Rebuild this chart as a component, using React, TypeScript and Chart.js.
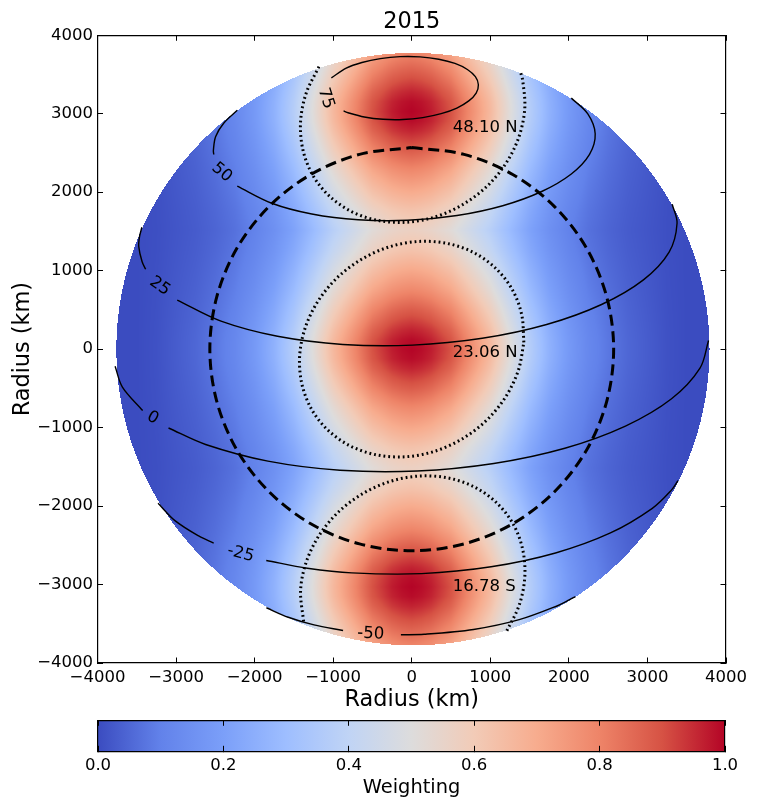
import React, { useEffect, useRef } from "react";
import { Chart, registerables } from "chart.js";

Chart.register(...registerables);

type Pair = [number, number];

const titleText = "2015";
const axisLabel = "Radius (km)";
const colorbarLabel = "Weighting";
const axisLimit = 4000;
const diskRadiusKm = 3775;
const diskCenterXKm = 15;

// Weighting read along a row and along a column of the picture
const xStops = [0, 125, 250, 500, 750, 1000, 1250, 1500, 1750, 2000, 2250, 2500, 2750, 3000, 3250, 3500, 3800];
const xWeights = [1, 0.99, 0.97, 0.9, 0.78, 0.66, 0.51, 0.37, 0.26, 0.18, 0.12, 0.08, 0.05, 0.03, 0.01, 0, 0];
const yStops = [0, 125, 250, 500, 750, 1000, 1250, 1515, 1780, 2030, 2280, 2530, 2780, 2905, 3030, 3155, 3280, 3530, 3800];
const yWeights = [1, 0.99, 0.96, 0.88, 0.79, 0.71, 0.63, 0.57, 0.63, 0.71, 0.79, 0.88, 0.96, 0.99, 1, 0.99, 0.96, 0.88, 0.79];

const colormapStops = [0, 0.1, 0.2, 0.3, 0.4, 0.5, 0.6, 0.7, 0.8, 0.9, 1];
const colormapColors: [number, number, number][] = [
  [59, 76, 192], [98, 130, 234], [123, 159, 249], [158, 190, 255], [192, 212, 245],
  [221, 220, 220], [242, 203, 183], [247, 172, 142], [238, 132, 104], [214, 82, 68], [180, 4, 38],
];
const colorbarTicks = [0, 0.2, 0.4, 0.6, 0.8, 1];

// Latitude contours, each broken where its label sits
const contour75: Pair[] = [[-1023, 3458], [-834, 3581], [-634, 3653], [-400, 3703], [-148, 3728], [106, 3725], [344, 3695], [550, 3641], [708, 3564], [810, 3472], [848, 3370], [820, 3264], [726, 3164], [574, 3073], [374, 3001], [140, 2951], [-112, 2926], [-366, 2929], [-604, 2959], [-810, 3013], [-868, 3036]];
const contour50Left: Pair[] = [[-2221, 3044], [-2394, 2879], [-2497, 2707], [-2525, 2532], [-2520, 2480]];
const contour50Right: Pair[] = [[-2221, 2077], [-1782, 1859], [-1272, 1722], [-682, 1649], [-52, 1642], [576, 1703], [1158, 1828], [1654, 2009], [2031, 2232], [2263, 2482], [2335, 2744], [2241, 2998], [2031, 3199]];
const contour25Left: Pair[] = [[-3435, 1553], [-3466, 1429], [-3475, 1307], [-3432, 1113], [-3387, 1018]];
const contour25Right: Pair[] = [[-2985, 625], [-2428, 357], [-1709, 164], [-877, 60], [12, 51], [897, 138], [1717, 314], [2416, 569], [2949, 883], [3276, 1236], [3377, 1605], [3315, 1847]];
const contour0Left: Pair[] = [[-3776, -219], [-3683, -484], [-3425, -783]];
const contour0Right: Pair[] = [[-3096, -1005], [-2624, -1215], [-1831, -1427], [-914, -1543], [68, -1553], [1044, -1457], [1949, -1263], [2720, -981], [3307, -633], [3669, -243], [3778, 111]];
const contourM25Left: Pair[] = [[-3229, -1964], [-3014, -2185], [-2707, -2384], [-2521, -2473]];
const contourM25Right: Pair[] = [[-1852, -2693], [-1329, -2792], [-764, -2852], [125, -2861], [1010, -2774], [1830, -2598], [2529, -2343], [3062, -2029], [3305, -1797], [3389, -1676]];
const contourM50Left: Pair[] = [[-1850, -3296], [-1572, -3417], [-1244, -3515], [-874, -3586]];
const contourM50Right: Pair[] = [[-138, -3640], [158, -3634], [786, -3573], [1368, -3448], [1864, -3267], [2004, -3197], [2083, -3153]];

// Half-weight outlines and the limb circle
const dottedMiddle: Pair[] = [[1427, 85], [1400, 437], [1279, 760], [1069, 1030], [788, 1231], [452, 1347], [85, 1372], [-288, 1303], [-640, 1145], [-949, 910], [-1193, 612], [-1356, 273], [-1427, -85], [-1400, -437], [-1279, -760], [-1069, -1030], [-788, -1231], [-452, -1347], [-85, -1372], [288, -1303], [640, -1145], [949, -910], [1193, -612], [1356, -273], [1427, 85]];
const dottedTop: Pair[] = [[-1181, 3601], [-1344, 3262], [-1415, 2904], [-1388, 2552], [-1267, 2229], [-1057, 1959], [-776, 1758], [-440, 1642], [-73, 1617], [300, 1686], [652, 1844], [961, 2079], [1205, 2377], [1368, 2716], [1439, 3074], [1412, 3426], [1382, 3538]];
const dottedBottom: Pair[] = [[-1377, -3471], [-1415, -3074], [-1344, -2716], [-1181, -2377], [-937, -2079], [-628, -1844], [-276, -1686], [97, -1617], [464, -1642], [800, -1758], [1081, -1959], [1291, -2229], [1412, -2552], [1439, -2904], [1368, -3262], [1205, -3601]];
const dashedCircle: Pair[] = [[0, 2570], [665, 2482], [1285, 2226], [1817, 1817], [2226, 1285], [2482, 665], [2570, 0], [2482, -665], [2226, -1285], [1817, -1817], [1285, -2226], [665, -2482], [0, -2570], [-665, -2482], [-1285, -2226], [-1817, -1817], [-2226, -1285], [-2482, -665], [-2570, 0], [-2482, 665], [-2226, 1285], [-1817, 1817], [-1285, 2226], [-665, 2482], [0, 2570]];

const contourLabels = ["75", "50", "25", "0", "-25", "-50"];
const contourLabelX = [-1095, -2419, -3208, -3297, -2177, -522];
const contourLabelY = [3195, 2253, 802, -878, -2610, -3628];
const contourLabelAngle = [72, 40, 35, 30, 15, 3];

const blobLabels = ["48.10 N", "23.06 N", "16.78 S"];
const blobLabelX = [522, 522, 522];
const blobLabelY = [2826, -51, -3030];

const FONT = "'DejaVu Sans'";
const TICK_SIZE = 16.5;
const LABEL_SIZE = 22.4;

function lookup(stops: number[], values: number[], v: number): number {
  for (let i = 1; i < stops.length; i++) {
    if (v <= stops[i]) {
      const t = (v - stops[i - 1]) / (stops[i] - stops[i - 1]);
      return values[i - 1] + t * (values[i] - values[i - 1]);
    }
  }
  return values[values.length - 1];
}

function toPoints(list: Pair[]) {
  return list.map(([x, y]) => ({ x, y }));
}

function fixWidth(w: number) {
  return (s: any) => {
    s.width = w;
  };
}
function fixHeight(h: number) {
  return (s: any) => {
    s.height = h;
  };
}

const minusTick = (v: any) => String(v).replace("-", "\u2212");

export default function App() {
  const mainRef = useRef<HTMLCanvasElement>(null);
  const barRef = useRef<HTMLCanvasElement>(null);

  useEffect(() => {
    const line = (data: Pair[], width: number, dash: number[] = []) => ({
      type: "scatter" as const,
      data: toPoints(data),
      showLine: true,
      borderColor: "#000",
      backgroundColor: "#000",
      borderWidth: width,
      borderDash: dash,
      borderCapStyle: "butt" as const,
      pointRadius: 0,
      tension: 0.33,
    });

    const heatPlugin = {
      id: "heat",
      beforeDatasetsDraw(chart: any) {
        const { ctx, chartArea, scales } = chart;
        const left = Math.floor(chartArea.left);
        const top = Math.floor(chartArea.top);
        const w = Math.ceil(chartArea.right) - left;
        const h = Math.ceil(chartArea.bottom) - top;
        const off = document.createElement("canvas");
        off.width = w;
        off.height = h;
        const octx = off.getContext("2d")!;
        const img = octx.createImageData(w, h);
        const channels = [0, 1, 2].map((k) => colormapColors.map((row) => row[k]));
        for (let py = 0; py < h; py++) {
          const y = scales.y.getValueForPixel(top + py + 0.5);
          const wy = lookup(yStops, yWeights, Math.abs(y));
          for (let px = 0; px < w; px++) {
            const x = scales.x.getValueForPixel(left + px + 0.5);
            const dx = x - diskCenterXKm;
            if (dx * dx + y * y > diskRadiusKm * diskRadiusKm) continue;
            const weight = lookup(xStops, xWeights, Math.abs(x)) * wy;
            const o = (py * w + px) * 4;
            img.data[o] = lookup(colormapStops, channels[0], weight);
            img.data[o + 1] = lookup(colormapStops, channels[1], weight);
            img.data[o + 2] = lookup(colormapStops, channels[2], weight);
            img.data[o + 3] = 255;
          }
        }
        octx.putImageData(img, 0, 0);
        ctx.drawImage(off, left, top);
      },
    };

    const labelPlugin = {
      id: "labels",
      afterDatasetsDraw(chart: any) {
        const { ctx, scales } = chart;
        ctx.save();
        ctx.fillStyle = "#000";
        ctx.font = `${TICK_SIZE}px ${FONT}`;
        ctx.textBaseline = "middle";
        ctx.textAlign = "center";
        contourLabels.forEach((t, i) => {
          ctx.save();
          ctx.translate(scales.x.getPixelForValue(contourLabelX[i]), scales.y.getPixelForValue(contourLabelY[i]));
          ctx.rotate((contourLabelAngle[i] * Math.PI) / 180);
          ctx.fillText(t, 0, 0);
          ctx.restore();
        });
        ctx.textAlign = "left";
        blobLabels.forEach((t, i) => {
          ctx.fillText(t, scales.x.getPixelForValue(blobLabelX[i]), scales.y.getPixelForValue(blobLabelY[i]));
        });
        ctx.restore();
      },
    };

    const inwardGrid = { drawOnChartArea: false, tickLength: -5.5, color: "#000", lineWidth: 1 };
    const frame = { display: true, color: "#000", width: 1.2 };

    const main = new Chart(mainRef.current!, {
      type: "scatter",
      data: {
        datasets: [
          line(contour75, 1.4), line(contour50Left, 1.4), line(contour50Right, 1.4),
          line(contour25Left, 1.4), line(contour25Right, 1.4), line(contour0Left, 1.4),
          line(contour0Right, 1.4), line(contourM25Left, 1.4), line(contourM25Right, 1.4),
          line(contourM50Left, 1.4), line(contourM50Right, 1.4),
          line(dottedMiddle, 3, [1.8, 3]), line(dottedTop, 3, [1.8, 3]), line(dottedBottom, 3, [1.8, 3]),
          line(dashedCircle, 3, [11, 5.6]),
        ],
      },
      options: {
        animation: false,
        responsive: false,
        devicePixelRatio: 1,
        events: [],
        layout: { padding: { left: 10, right: 0, top: 0, bottom: 94 } },
        plugins: {
          legend: { display: false },
          tooltip: { enabled: false },
          title: {
            display: true,
            fullSize: false,
            text: titleText,
            color: "#000",
            font: { family: FONT, size: LABEL_SIZE, weight: "normal" },
            padding: { top: 8.4, bottom: 0 },
          },
        },
        scales: {
          x: {
            type: "linear", position: "bottom", min: -axisLimit, max: axisLimit,
            grid: inwardGrid, border: frame,
            ticks: { stepSize: 1000, color: "#000", autoSkip: false, maxRotation: 0, padding: 10, font: { family: FONT, size: TICK_SIZE }, callback: minusTick },
            title: { display: true, text: axisLabel, color: "#000", padding: 0, font: { family: FONT, size: LABEL_SIZE } },
            afterFit: fixHeight(51),
          },
          x2: {
            type: "linear", position: "top", min: -axisLimit, max: axisLimit,
            grid: inwardGrid, border: frame,
            ticks: { stepSize: 1000, display: false },
            afterFit: fixHeight(0),
          },
          y: {
            type: "linear", position: "left", min: -axisLimit, max: axisLimit,
            grid: inwardGrid, border: frame,
            ticks: { stepSize: 1000, color: "#000", autoSkip: false, padding: 10, font: { family: FONT, size: TICK_SIZE }, callback: minusTick },
            title: { display: true, text: axisLabel, color: "#000", padding: 0, font: { family: FONT, size: LABEL_SIZE } },
            afterFit: fixWidth(87.5),
          },
          y2: {
            type: "linear", position: "right", min: -axisLimit, max: axisLimit,
            grid: inwardGrid, border: frame,
            ticks: { stepSize: 1000, display: false },
            afterFit: fixWidth(34),
          },
        },
      } as any,
      plugins: [heatPlugin, labelPlugin],
    });

    const gradientPlugin = {
      id: "gradient",
      beforeDraw(chart: any) {
        const { ctx, chartArea, scales } = chart;
        const x0 = scales.x.getPixelForValue(0);
        const x1 = scales.x.getPixelForValue(1);
        const g = ctx.createLinearGradient(x0, 0, x1, 0);
        colormapStops.forEach((s, i) => {
          const c = colormapColors[i];
          g.addColorStop(s, `rgb(${c[0]},${c[1]},${c[2]})`);
        });
        ctx.save();
        ctx.fillStyle = g;
        ctx.fillRect(x0, chartArea.top, x1 - x0, chartArea.bottom - chartArea.top);
        ctx.restore();
      },
    };

    const barGrid = { drawOnChartArea: false, tickLength: -5.5, color: "#000", lineWidth: 1, z: 1 };
    const barFrame = { display: true, color: "#000", width: 1.2, z: 1 };
    const bar = new Chart(barRef.current!, {
      type: "scatter",
      data: { datasets: [{ data: [] }] },
      options: {
        animation: false,
        responsive: false,
        devicePixelRatio: 1,
        events: [],
        layout: { padding: { left: 98, right: 35, top: 20.3, bottom: 8.1 } },
        plugins: { legend: { display: false }, tooltip: { enabled: false } },
        scales: {
          x: {
            type: "linear", position: "bottom", min: 0, max: 1,
            afterBuildTicks: (s: any) => {
              s.ticks = colorbarTicks.map((value) => ({ value }));
            },
            grid: barGrid, border: barFrame,
            ticks: { color: "#000", autoSkip: false, maxRotation: 0, padding: 10.5, font: { family: FONT, size: TICK_SIZE }, callback: (v: any) => Number(v).toFixed(1) },
            title: { display: true, text: colorbarLabel, color: "#000", padding: 0, font: { family: FONT, size: 19.4 } },
            afterFit: fixHeight(48.6),
          },
          x2: {
            type: "linear", position: "top", min: 0, max: 1,
            afterBuildTicks: (s: any) => {
              s.ticks = colorbarTicks.map((value) => ({ value }));
            },
            grid: barGrid, border: barFrame,
            ticks: { display: false },
            afterFit: fixHeight(0),
          },
          y: {
            type: "linear", position: "left", min: 0, max: 1,
            grid: { display: false }, border: barFrame,
            ticks: { display: false },
            afterFit: fixWidth(0),
          },
          y2: {
            type: "linear", position: "right", min: 0, max: 1,
            grid: { display: false }, border: barFrame,
            ticks: { display: false },
            afterFit: fixWidth(0),
          },
        },
      } as any,
      plugins: [gradientPlugin],
    });

    return () => {
      main.destroy();
      bar.destroy();
    };
  }, []);

  return (
    <div style={{ position: "fixed", left: 0, top: 0, width: 760, height: 808, background: "#fff" }}>
      <canvas ref={mainRef} width={760} height={808} style={{ position: "absolute", left: 0, top: 0 }} />
      <canvas ref={barRef} width={760} height={108} style={{ position: "absolute", left: 0, top: 700 }} />
    </div>
  );
}
